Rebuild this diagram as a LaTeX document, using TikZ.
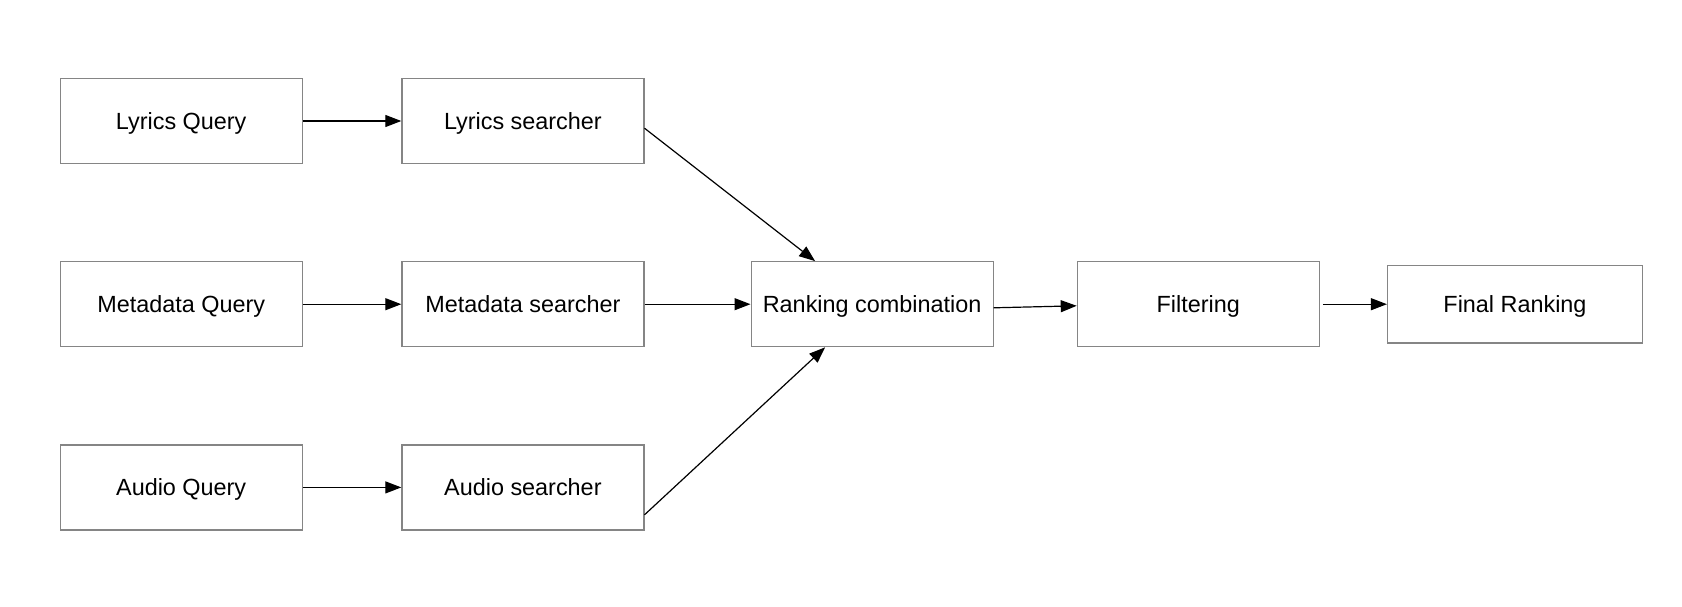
\documentclass[tikz,border=0pt]{standalone}
\usepackage{fontspec}
\setmainfont{Liberation Sans}
\usetikzlibrary{arrows.meta,positioning}
\definecolor{rkgray}{HTML}{858585}
\definecolor{rkdark}{HTML}{000000}
\tikzset{
  stagebox/.style={draw=rkgray,line width=0.6pt,fill=white,align=center,
                   minimum width=121pt,minimum height=42.5pt,inner sep=0pt,
                   text height=8.4pt,text depth=0pt,
                   font=\fontsize{11.7}{14}\selectfont},
  flow/.style={-{Triangle[length=8pt,width=6pt]},line width=0.6pt,draw=rkdark}
}

\begin{document}
\begin{tikzpicture}[x=1pt,y=1pt,node distance=48.5pt and 49.25pt]
    \useasboundingbox (0,0) rectangle (841,-303);

    \node[stagebox] (lquery) at (90.6,-60.5) {Lyrics Query};
    \node[stagebox,right=of lquery] (lsearch) {Lyrics searcher};
    \node[stagebox,below=of lquery] (mquery) {Metadata Query};
    \node[stagebox,right=of mquery] (msearch) {Metadata searcher};
    \node[stagebox,below=of mquery] (aquery) {Audio Query};
    \node[stagebox,right=of aquery] (asearch) {Audio searcher};

    \node[stagebox,right=53pt of msearch] (rank) {Ranking combination};
    \node[stagebox,right=41.5pt of rank] (filter) {Filtering};
    \node[stagebox,right=33.5pt of filter,minimum width=127.5pt,minimum height=38.7pt] (final) {Final Ranking};

    \draw[flow] (lquery) -- (lsearch);
    \draw[flow] (mquery) -- (msearch);
    \draw[flow] (aquery) -- (asearch);
    \draw[flow] ([yshift=-3.6pt]lsearch.east) -- ([xshift=-28.5pt]rank.north);
    \draw[flow] (msearch) -- (rank);
    \draw[flow] ([yshift=-13.7pt]asearch.east) -- ([xshift=-23.5pt]rank.south);
    \draw[flow] ([yshift=-1.8pt]rank.east) -- ([yshift=-0.8pt]filter.west);
    \draw[flow] ([xshift=1.5pt]filter.east) -- (final);
\end{tikzpicture}
\end{document}
